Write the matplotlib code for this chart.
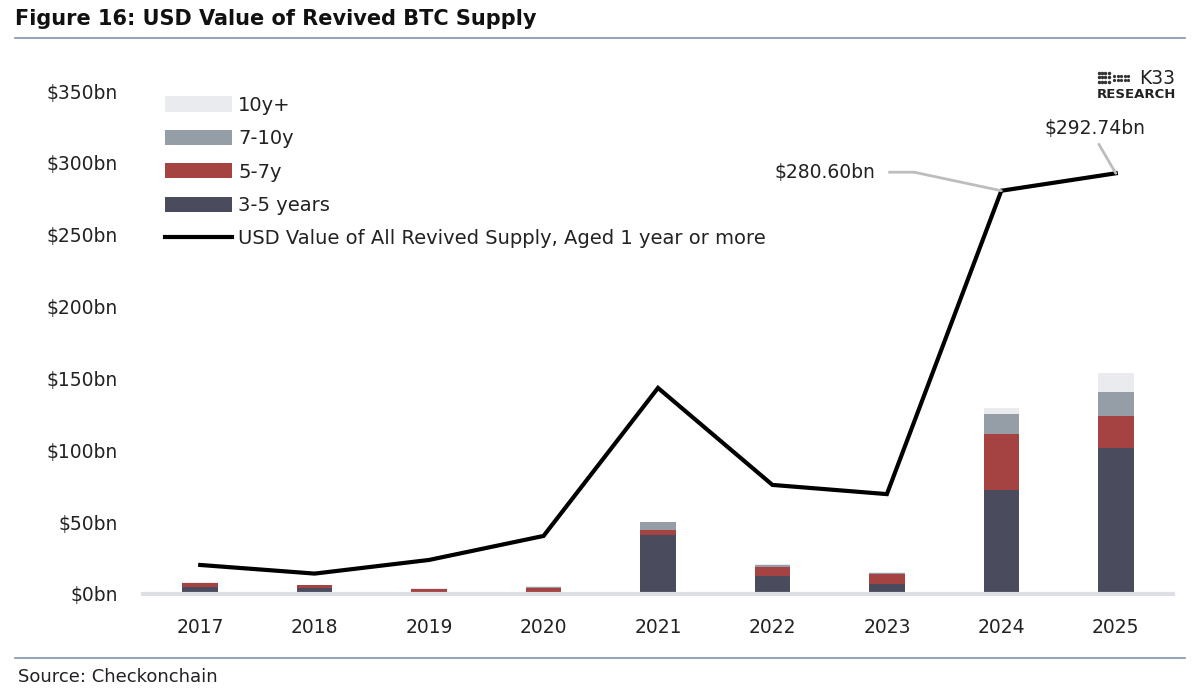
import matplotlib
matplotlib.use("Agg")
import matplotlib.pyplot as plt
from matplotlib.lines import Line2D
import numpy as np

years = ["2017", "2018", "2019", "2020", "2021", "2022", "2023", "2024", "2025"]
y3_5 = [5.0, 4.5, 1.0, 1.2, 41.0, 12.8, 7.2, 72.2, 101.4]
y5_7 = [2.6, 1.5, 2.3, 3.1, 3.5, 5.8, 6.5, 38.8, 22.6]
y7_10 = [0.4, 0.3, 0.5, 0.9, 5.5, 1.8, 1.1, 14.5, 16.4]
y10p = [0.2, 0.2, 0.2, 0.3, 0.3, 0.5, 0.4, 3.9, 13.2]
all_revived = [20.2, 14.2, 23.7, 40.4, 143.4, 75.9, 69.5, 280.60, 292.74]
yticks = [0, 50, 100, 150, 200, 250, 300, 350]

c_dark = "#4a4c5e"
c_red = "#a54343"
c_gray = "#959da6"
c_light = "#e9ebef"
c_rule = "#7f93aa"

plt.rcParams["font.family"] = ["DejaVu Sans"]
fig = plt.figure(figsize=(12, 6.97), dpi=100)
ax = fig.add_axes([143 / 1200, 1 - 594 / 697, 1030 / 1200, (594 - 91) / 697])

x = np.arange(len(years))
w = 0.31
b1 = np.array(y3_5)
b2 = b1 + np.array(y5_7)
b3 = b2 + np.array(y7_10)
ax.bar(x, y3_5, w, color=c_dark, label="3-5 years", zorder=2)
ax.bar(x, y5_7, w, bottom=b1, color=c_red, label="5-7y", zorder=2)
ax.bar(x, y7_10, w, bottom=b2, color=c_gray, label="7-10y", zorder=2)
ax.bar(x, y10p, w, bottom=b3, color=c_light, label="10y+", zorder=2)
ax.plot(x, all_revived, color="black", lw=3, solid_joinstyle="miter",
        label="USD Value of All Revived Supply, Aged 1 year or more", zorder=3)

ax.set_xlim(-0.5, len(years) - 0.5)
ax.set_ylim(0, 350)
ax.set_xticks(x)
ax.set_xticklabels(years)
ax.set_yticks(yticks)
ax.set_yticklabels([f"${v}bn" for v in yticks])
ax.tick_params(axis="both", length=0, labelsize=13.5, colors="#222222")
ax.tick_params(axis="x", pad=17)
ax.tick_params(axis="y", pad=18)
for s in ["top", "right", "left"]:
    ax.spines[s].set_visible(False)
ax.spines["bottom"].set_color("#dcdfe4")
ax.spines["bottom"].set_linewidth(3)

# annotations
ax.annotate(f"${all_revived[7]:.2f}bn", xy=(7, all_revived[7]), xytext=(5.9, 293.5),
            fontsize=13.5, ha="right", va="center", color="#222222",
            arrowprops=dict(arrowstyle="-", color="#bdbdbd", lw=2,
                            connectionstyle="angle,angleA=0,angleB=168,rad=0",
                            shrinkA=8, shrinkB=0))
ax.annotate(f"${all_revived[8]:.2f}bn", xy=(8, all_revived[8]), xytext=(7.82, 324),
            fontsize=13.5, ha="center", va="center", color="#222222",
            arrowprops=dict(arrowstyle="-", color="#bdbdbd", lw=2,
                            relpos=(0.5, 0.0), shrinkA=3, shrinkB=0))

handles, labels = ax.get_legend_handles_labels()
order = [4, 3, 2, 1, 0]
leg = ax.legend([handles[i] for i in order], [labels[i] for i in order],
                loc="upper left", bbox_to_anchor=(0.014, 1.006), frameon=False,
                fontsize=14, handlelength=3.45, handleheight=0.82,
                labelspacing=0.74, handletextpad=0.3, borderaxespad=0)
for t in leg.get_texts():
    t.set_color("#222222")

# title and rules
fig.text(15 / 1200, 1 - 19 / 697, "Figure 16: USD Value of Revived BTC Supply",
         fontsize=15, fontweight="bold", ha="left", va="center", color="#111111")
fig.add_artist(Line2D([15 / 1200, 1185 / 1200], [1 - 38 / 697, 1 - 38 / 697],
                      color=c_rule, lw=1.2))
fig.add_artist(Line2D([15 / 1200, 1185 / 1200], [1 - 658 / 697, 1 - 658 / 697],
                      color=c_rule, lw=1.2))
fig.text(18 / 1200, 1 - 677 / 697, "Source: Checkonchain", fontsize=13,
         ha="left", va="center", color="#222222")

# logo
fig.text(1175 / 1200, 1 - 78 / 697, "K33", fontsize=13.5, ha="right", va="center",
         color="#222222")
fig.text(1176 / 1200, 1 - 94 / 697, "RESEARCH", fontsize=9.5, fontweight="bold",
         ha="right", va="center", color="#222222")
for i in range(4):
    for j in range(3):
        fig.add_artist(Line2D([(1099 + i * 3.2) / 1200], [1 - (73 + j * 4.3) / 697],
                              marker="o", ms=1.5, color="#333333", lw=0))
for i in range(5):
    for j in range(2):
        fig.add_artist(Line2D([(1114 + i * 3.6) / 1200], [1 - (75.5 + j * 4.3) / 697],
                              marker="o", ms=1.3, color="#333333", lw=0))

fig.savefig("out.png", dpi=100, facecolor="white")
